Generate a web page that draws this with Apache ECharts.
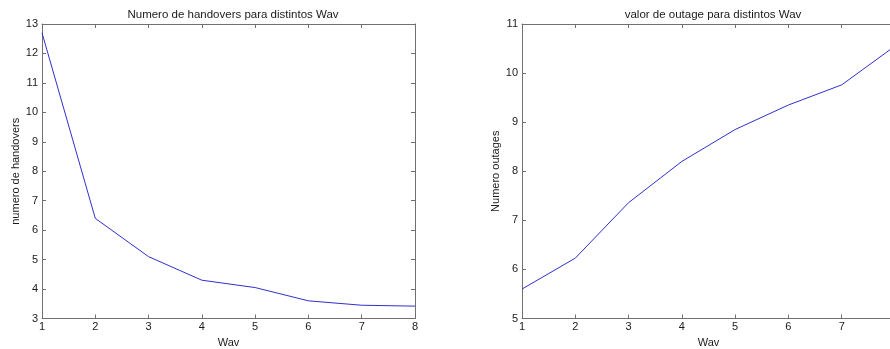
<!DOCTYPE html>
<html>
<head>
<meta charset="utf-8">
<script src="https://cdn.jsdelivr.net/npm/echarts@6/dist/echarts.min.js"></script>
<style>
html,body{margin:0;padding:0;background:#fff;}
#c{width:890px;height:349px;}
</style>
</head>
<body>
<div id="c"></div>
<script>
var wav = [1, 2, 3, 4, 5, 6, 7, 8];
var handovers = [12.7, 6.4, 5.1, 4.3, 4.05, 3.6, 3.45, 3.42];
var outages = [5.6, 6.23, 7.36, 8.2, 8.85, 9.35, 9.76, 10.55];
var title1 = 'Numero de handovers para distintos Wav';
var title2 = 'valor de outage para distintos Wav';
var xName = 'Wav';
var yName1 = 'numero de handovers';
var yName2 = 'Numero outages';

var FONT = 'Liberation Sans';
var AX = '#707070';
var TXT = '#1a1a1a';

function pairs(xs, ys) { return xs.map(function (x, i) { return [x, ys[i]]; }); }

function mainX(grid) {
  return {
    type: 'value', gridIndex: grid, min: 1, max: 8, interval: 1,
    name: xName, nameLocation: 'middle', nameGap: 15,
    nameTextStyle: { fontFamily: FONT, fontSize: 11, color: TXT },
    axisLine: { show: true, onZero: false, lineStyle: { color: AX, width: 1 } },
    axisTick: { show: true, inside: true, length: 4, lineStyle: { color: AX } },
    axisLabel: { fontFamily: FONT, fontSize: 11, color: TXT, margin: 3, showMinLabel: true, showMaxLabel: true },
    splitLine: { show: false }
  };
}
function topX(grid) {
  return {
    type: 'value', gridIndex: grid, position: 'top', min: 1, max: 8, interval: 1,
    axisLine: { show: true, onZero: false, lineStyle: { color: AX, width: 1 } },
    axisTick: { show: true, inside: true, length: 4, lineStyle: { color: AX } },
    axisLabel: { show: false }, splitLine: { show: false }
  };
}
function mainY(grid, mn, mx, nm, gap) {
  return {
    type: 'value', gridIndex: grid, min: mn, max: mx, interval: 1,
    name: nm, nameLocation: 'middle', nameGap: gap, nameRotate: 90,
    nameTextStyle: { fontFamily: FONT, fontSize: 11, color: TXT },
    axisLine: { show: true, onZero: false, lineStyle: { color: AX, width: 1 } },
    axisTick: { show: true, inside: true, length: 4, lineStyle: { color: AX } },
    axisLabel: { fontFamily: FONT, fontSize: 11, color: TXT, margin: 4, showMinLabel: true, showMaxLabel: true },
    splitLine: { show: false }
  };
}
function rightY(grid, mn, mx) {
  return {
    type: 'value', gridIndex: grid, position: 'right', min: mn, max: mx, interval: 1,
    axisLine: { show: true, onZero: false, lineStyle: { color: AX, width: 1 } },
    axisTick: { show: true, inside: true, length: 4, lineStyle: { color: AX } },
    axisLabel: { show: false }, splitLine: { show: false }
  };
}

var chart = echarts.init(document.getElementById('c'), null, { renderer: 'canvas' });
chart.setOption({
  backgroundColor: '#ffffff',
  animation: false,
  title: [
    { text: title1, left: 228, top: 4, textAlign: 'center',
      textStyle: { fontFamily: FONT, fontSize: 11.5, fontWeight: 'normal', color: TXT } },
    { text: title2, left: 708, top: 4, textAlign: 'center',
      textStyle: { fontFamily: FONT, fontSize: 11.5, fontWeight: 'normal', color: TXT } }
  ],
  grid: [
    { left: 42, top: 24, width: 373, height: 294.5, outerBoundsMode: 'none', containLabel: false },
    { left: 522, top: 24, width: 373, height: 294.5, outerBoundsMode: 'none', containLabel: false }
  ],
  xAxis: [mainX(0), topX(0), mainX(1), topX(1)],
  yAxis: [mainY(0, 3, 13, yName1, 18), rightY(0, 3, 13), mainY(1, 5, 11, yName2, 21), rightY(1, 5, 11)],
  series: [
    { type: 'line', xAxisIndex: 0, yAxisIndex: 0, data: pairs(wav, handovers),
      showSymbol: false, lineStyle: { color: '#3030cc', width: 1 }, silent: true },
    { type: 'line', xAxisIndex: 2, yAxisIndex: 2, data: pairs(wav, outages),
      showSymbol: false, lineStyle: { color: '#3030cc', width: 1 }, silent: true }
  ]
});
</script>
</body>
</html>
